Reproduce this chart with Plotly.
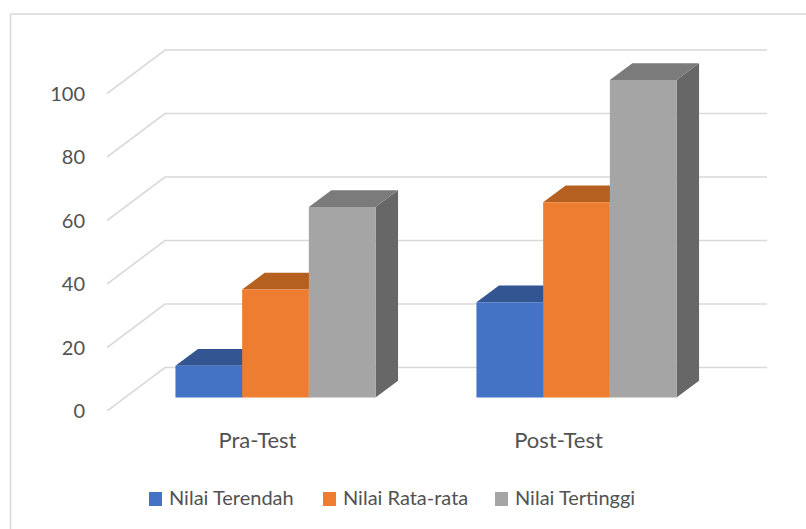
import plotly.graph_objects as go

categories = ["Pra-Test", "Post-Test"]
series_names = ["Nilai Terendah", "Nilai Rata-rata", "Nilai Tertinggi"]
nilai_terendah = [10, 30]
nilai_rata = [34, 61.5]
nilai_tertinggi = [60, 100]
y_ticks = [0, 20, 40, 60, 80, 100]

series_values = [nilai_terendah, nilai_rata, nilai_tertinggi]
front_colors = ["#4472C4", "#ED7D31", "#A5A5A5"]
top_colors = ["#335592", "#B56021", "#7B7B7B"]
side_colors = ["#284375", "#96491A", "#676767"]
GRID = "#D9D9D9"
TEXT = "#525252"
FONT = "Lato"

W, H = 806, 529
# pixel scale of the chart's oblique projection
CAT_PX, VAL_PX = 301.0, 3.175
X0_PX, Y0_PX = 257.5, 411.0          # floor front plane: first category, value 0
LEFT_PX, RIGHT_PX, TOP_PX = 107.0, 767.0, 30.0
BAR_SHIFT_X, BAR_SHIFT_Y = 18.0, 13.5  # bar front plane relative to floor front plane
WALL_DX, WALL_DY = 58.0, 43.5
BAR_DX, BAR_DY = 22.5, 16.7
BAR_W = 66.7

x_range = [(LEFT_PX - X0_PX) / CAT_PX, (RIGHT_PX - X0_PX) / CAT_PX]
y_range = [0, (Y0_PX - TOP_PX) / VAL_PX]
sx, sy = BAR_SHIFT_X / CAT_PX, BAR_SHIFT_Y / VAL_PX
bar_w = BAR_W / CAT_PX
ddx, ddy = BAR_DX / CAT_PX, BAR_DY / VAL_PX
wdx, wdy = WALL_DX / CAT_PX, WALL_DY / VAL_PX

fig = go.Figure()

# wall / floor gridlines, one polyline per tick
for t in y_ticks:
    fig.add_trace(go.Scatter(
        x=[-0.5, -0.5 + wdx, 1.5 + wdx], y=[t, t + wdy, t + wdy],
        mode="lines", line=dict(color=GRID, width=1.6),
        hoverinfo="skip", showlegend=False, xaxis="x", yaxis="y"))

# depth faces (top and right side) for each bar
for s, vals in enumerate(series_values):
    for c, v in enumerate(vals):
        xl = c + (s - 1.5) * bar_w + sx
        xr = xl + bar_w
        b = sy
        t = v + sy
        fig.add_trace(go.Scatter(
            x=[xr, xr, xr + ddx, xr + ddx, xr], y=[b, t, t + ddy, b + ddy, b],
            mode="lines", fill="toself", fillcolor=side_colors[s],
            line=dict(width=0), hoverinfo="skip", showlegend=False,
            xaxis="x", yaxis="y"))
        fig.add_trace(go.Scatter(
            x=[xl, xr, xr + ddx, xl + ddx, xl], y=[t, t, t + ddy, t + ddy, t],
            mode="lines", fill="toself", fillcolor=top_colors[s],
            line=dict(width=0), hoverinfo="skip", showlegend=False,
            xaxis="x", yaxis="y"))

# front faces
for s, vals in enumerate(series_values):
    fig.add_trace(go.Bar(
        x=[0, 1], y=vals, name=series_names[s], width=bar_w,
        offset=(s - 1.5) * bar_w,
        marker=dict(color=front_colors[s], line=dict(width=0)),
        showlegend=False, xaxis="x2", yaxis="y2"))

# legend drawn to the reference's swatch/label spacing
legend_x = [149, 323, 495]
shapes = [
    dict(type="line", xref="paper", yref="paper", x0=10.5 / W, x1=1, y0=1 - 14 / H, y1=1 - 14 / H,
         line=dict(color=GRID, width=1.5)),
    dict(type="line", xref="paper", yref="paper", x0=10.5 / W, x1=10.5 / W, y0=0, y1=1 - 14 / H,
         line=dict(color=GRID, width=1.5)),
]
annotations = []
for lx, name, col in zip(legend_x, series_names, front_colors):
    shapes.append(dict(type="rect", xref="paper", yref="paper", x0=lx / W, x1=(lx + 13) / W,
                       y0=1 - 506 / H, y1=1 - 492 / H, fillcolor=col, line=dict(width=0)))
    annotations.append(dict(xref="paper", yref="paper", x=(lx + 18) / W, y=1 - 497 / H,
                            text=name, showarrow=False, xanchor="left", yanchor="middle",
                            font=dict(family=FONT, size=20, color=TEXT)))

fig.update_layout(
    width=W, height=H, margin=dict(l=0, r=0, t=0, b=0),
    paper_bgcolor="white", plot_bgcolor="rgba(0,0,0,0)",
    barmode="overlay", showlegend=False,
    shapes=shapes, annotations=annotations,
    xaxis=dict(domain=[LEFT_PX / W, RIGHT_PX / W], range=x_range, tickmode="array",
               tickvals=[0, 1], ticktext=categories, showgrid=False, zeroline=False,
               showline=False, ticks="outside", ticklen=10, tickcolor="rgba(0,0,0,0)",
               automargin=False, tickfont=dict(family=FONT, size=22, color=TEXT)),
    yaxis=dict(domain=[1 - Y0_PX / H, 1 - TOP_PX / H], range=y_range, tickmode="array",
               tickvals=y_ticks, showgrid=False, zeroline=False, showline=False,
               ticks="outside", ticklen=17, tickcolor="rgba(0,0,0,0)",
               automargin=False, tickfont=dict(family=FONT, size=20, color=TEXT)),
    xaxis2=dict(overlaying="x", range=[x_range[0] - sx, x_range[1] - sx], visible=False, automargin=False),
    yaxis2=dict(overlaying="y", range=[y_range[0] - sy, y_range[1] - sy], visible=False, automargin=False),
)

fig.write_html("out.html", config=dict(displayModeBar=False),
               post_script="document.body.style.margin='0';document.body.style.overflow='hidden';")
